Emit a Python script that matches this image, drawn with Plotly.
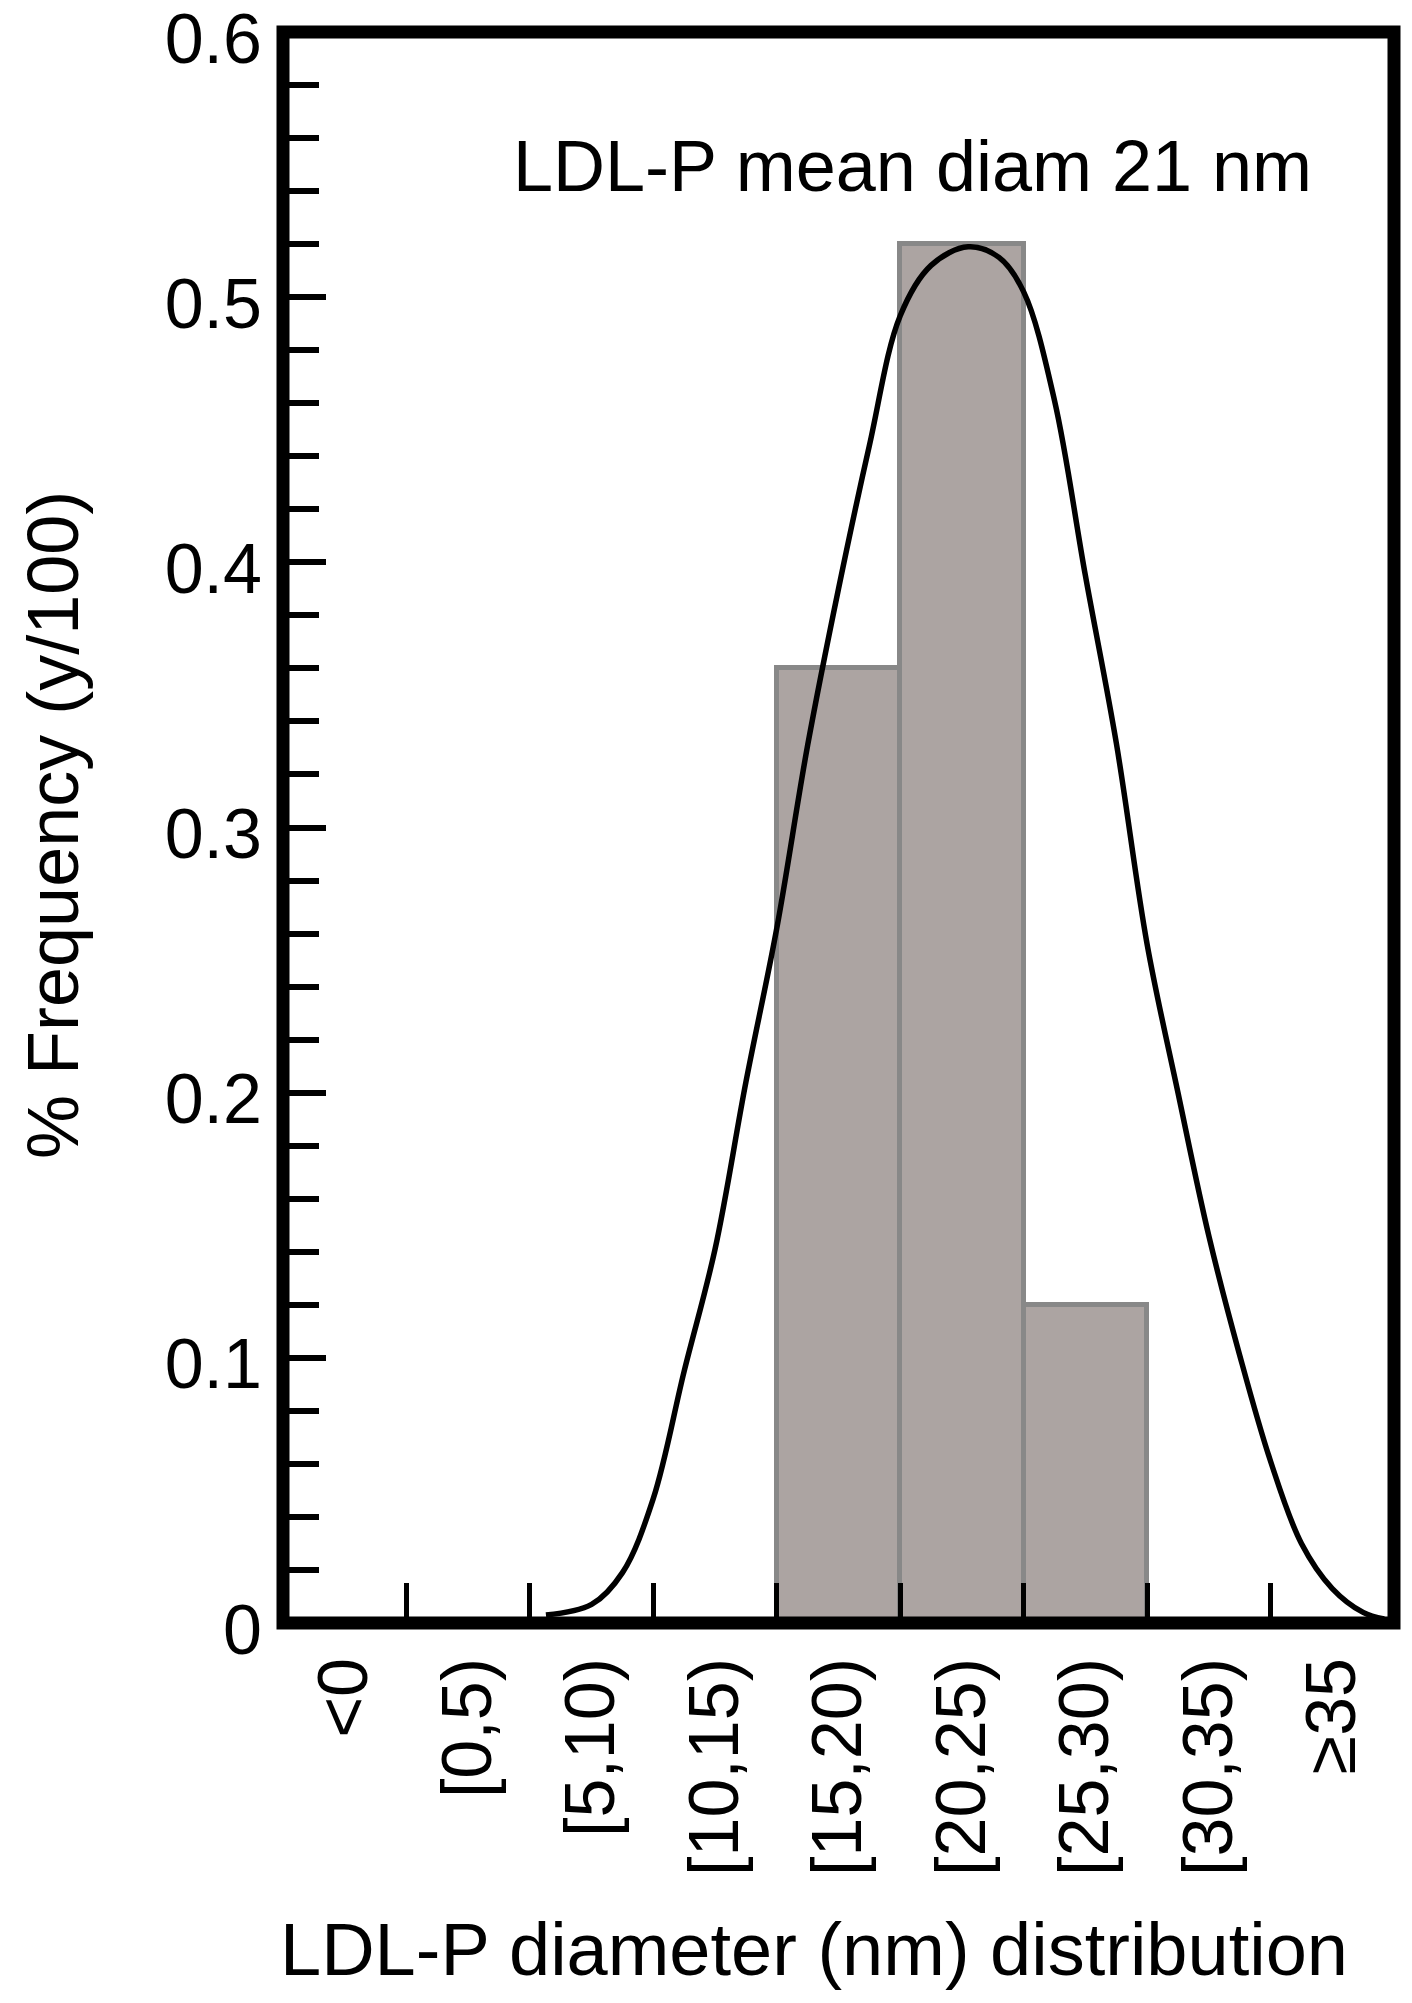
import plotly.graph_objects as go

# LDL-P size bins (nm) and observed frequency per bin
bins = ["<0", "[0,5)", "[5,10)", "[10,15)", "[15,20)", "[20,25)", "[25,30)", "[30,35)", "≥35"]
bin_mid = [-2.5, 2.5, 7.5, 12.5, 17.5, 22.5, 27.5, 32.5, 37.5]
freq = [0, 0, 0, 0, 0.36, 0.52, 0.12, 0, 0]

# fitted curve (diameter in nm, frequency)
curve_nm = [5.65, 7.5, 8.75, 10.0, 11.25, 12.5, 13.75, 15.0, 16.25, 17.5, 18.75,
            20.0, 21.25, 22.75, 24.0, 25.0, 26.25, 27.5, 28.75, 30.0, 31.25, 32.5,
            33.75, 35.0, 36.25, 37.5, 38.75, 39.6]
curve_freq = [0.003, 0.007, 0.019, 0.047, 0.095, 0.141, 0.204, 0.262, 0.331, 0.390,
              0.444, 0.493, 0.512, 0.519, 0.515, 0.502, 0.461, 0.395, 0.332, 0.256,
              0.200, 0.146, 0.101, 0.061, 0.030, 0.013, 0.004, 0.0015]

FONT = "Liberation Sans, Arial, sans-serif"

fig = go.Figure()
fig.add_bar(x=bin_mid, y=freq, width=5,
            marker=dict(color="#aca4a2", line=dict(color="#888888", width=5)))
fig.add_scatter(x=curve_nm, y=curve_freq, mode="lines",
                line=dict(color="black", width=5.5, shape="spline", smoothing=1))

fig.update_xaxes(range=[-5, 40], tickvals=bin_mid, ticktext=bins, ticks="",
                 tickangle=-90, tickfont=dict(size=70, color="black"),
                 ticklabelstandoff=20, showgrid=False, zeroline=False,
                 automargin=False,
                 minor=dict(tick0=0, dtick=5, ticks="inside", ticklen=40,
                            tickwidth=5, tickcolor="black", showgrid=False))
fig.update_yaxes(range=[0, 0.6], dtick=0.1, ticks="inside", ticklen=43,
                 tickwidth=6, tickcolor="black", ticklabeloverflow="allow",
                 tickfont=dict(size=70, color="black"), ticklabelstandoff=20,
                 ticklabelshift=6,
                 showgrid=False, zeroline=False, automargin=False,
                 minor=dict(dtick=0.02, ticks="inside", ticklen=36, tickwidth=6,
                            tickcolor="black", showgrid=False))

# heavy black frame round the plot area
fig.add_shape(type="rect", xref="paper", yref="paper", x0=0, x1=1, y0=0, y1=1,
              line=dict(color="black", width=13), layer="above")

fig.add_annotation(text="LDL-P mean diam 21 nm", xref="paper", yref="paper",
                   x=0.205, y=0.916, xanchor="left", yanchor="middle",
                   showarrow=False, font=dict(size=72, color="black"))
fig.add_annotation(text="LDL-P diameter (nm) distribution", xref="paper", yref="paper",
                   x=0.478, y=-0.205, xanchor="center", yanchor="middle",
                   showarrow=False, font=dict(size=74, color="black"))
fig.add_annotation(text="% Frequency (y/100)", xref="paper", yref="paper",
                   x=-0.207, y=0.5016, xanchor="center", yanchor="middle",
                   textangle=-90, showarrow=False, font=dict(size=72, color="black"))

fig.update_layout(width=1396, height=1987,
                  margin=dict(l=275, r=10, t=24, b=372),
                  plot_bgcolor="white", paper_bgcolor="white",
                  font=dict(family=FONT, color="black"),
                  showlegend=False, bargap=0)

fig.write_html("out.html")
